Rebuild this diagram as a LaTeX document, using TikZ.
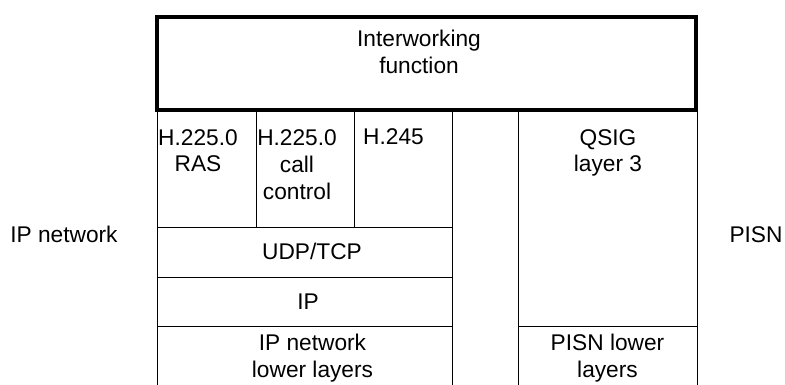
\documentclass[tikz,border=0pt]{standalone}
\usepackage{fontspec}
\setmainfont{Liberation Sans}
\begin{document}
\begin{tikzpicture}[x=1pt,y=-1pt,
  cell/.style={draw, line width=1pt, anchor=north west, inner sep=0pt, outer sep=0pt},
  txt/.style={font=\fontsize{22.7}{27}\selectfont, align=center, anchor=base, inner sep=0pt},
  iwfbox/.style={draw, line width=4pt, anchor=north west, inner sep=0pt, outer sep=0pt}]
\useasboundingbox (0,0) rectangle (785,385);
\clip (0,0) rectangle (785,385);
% left stack
\node[cell, minimum width=99pt, minimum height=116pt] (ras) at (157,111) {};
\node[cell, minimum width=98pt, minimum height=116pt] (call) at (256,111) {};
\node[cell, minimum width=98pt, minimum height=116pt] (h245) at (354,111) {};
\node[cell, minimum width=295pt, minimum height=50pt] (udp) at (157,227) {};
\node[cell, minimum width=295pt, minimum height=49pt] (ip) at (157,277) {};
\node[cell, minimum width=295pt, minimum height=80pt] (iplow) at (157,326) {};
% right stack
\node[cell, minimum width=179pt, minimum height=215pt] (qsig) at (518,111) {};
\node[cell, minimum width=179pt, minimum height=80pt] (pisnlow) at (518,326) {};
% interworking function
\node[iwfbox, minimum width=539pt, minimum height=93pt] (iwf) at (157,17) {};
% texts (base anchor = baseline of last line)
\node[txt] (tiwf) at (419,74) {Interworking\\function};
\node[txt] (tras) at (198,172) {H.225.0\\RAS};
\node[txt] (tcall) at (297,200) {H.225.0\\call\\control};
\node[txt] (th245) at (393.5,145) {H.245};
\node[txt] (tudp) at (312,259) {UDP/TCP};
\node[txt] (tip) at (308,309) {IP};
\node[txt] (tiplow) at (312.5,377) {IP network\\lower layers};
\node[txt] (tqsig) at (608,172) {QSIG\\layer 3};
\node[txt] (tpisnlow) at (607.5,377) {PISN lower\\layers};
\node[txt] (tipnet) at (64,243) {IP network};
\node[txt] (tpisn) at (756,242) {PISN};
\end{tikzpicture}
\end{document}
